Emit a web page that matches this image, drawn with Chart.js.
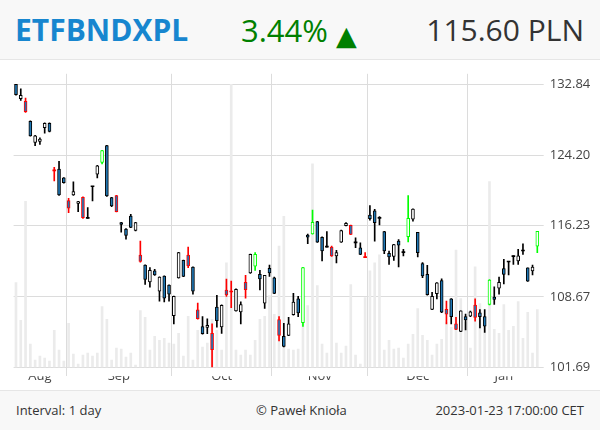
<!DOCTYPE html>
<html>
<head>
<meta charset="utf-8">
<script src="https://cdn.jsdelivr.net/npm/chart.js@4.4.1/dist/chart.umd.min.js"></script>
<style>
  body { margin: 0; width: 600px; height: 430px; position: relative; overflow: hidden;
         font-family: 'Open Sans', sans-serif; background: #fff; }
  #head { position: absolute; left: 0; top: 0; width: 600px; height: 59px;
          background: #f8f8f8; border-bottom: 1px solid #e6e6e6; }
  #foot { position: absolute; left: 0; top: 390px; width: 600px; height: 40px;
          background: #f8f8f8; border-top: 1px solid #e6e6e6; }
  .t { position: absolute; line-height: 1; white-space: nowrap; }
  #wrap { position: absolute; left: 0; top: 60px; width: 600px; height: 330px; }
</style>
</head>
<body>
<div id="head">
  <div class="t" style="left:15px;top:15px;font-size:30px;font-weight:bold;color:#1786cf">ETFBNDXPL</div>
  <div class="t" style="left:241px;top:15px;font-size:31px;color:#008000">3.44% <span style="font-family:'DejaVu Sans';font-size:27px;vertical-align:-3px">▲</span></div>
  <div class="t" style="right:16px;top:15px;font-size:30px;color:#333">115.60 PLN</div>
</div>
<div id="wrap"><canvas id="chart" width="600" height="330"></canvas></div>
<div id="foot">
  <div class="t" style="left:16px;top:13px;font-size:13px;color:#333">Interval: 1 day</div>
  <div class="t" style="left:256px;top:13px;font-size:13px;color:#333">© Paweł Knioła</div>
  <div class="t" style="right:16px;top:13px;font-size:13px;color:#333">2023-01-23 17:00:00 CET</div>
</div>
<script>
// daily candles, 2022-08-17 .. 2023-01-23 (trading days only)
const opens = [
  132.84, 131.07, 130.74, 128.28, 125.74, 125.86, 127.51, 128.04, 122.41, 122.63,
  121.60, 119.02, 119.65, 118.69, 119.39, 117.04, 120.59, 122.04, 123.38, 125.37,
  119.36, 119.58, 116.56, 115.87, 117.30, 115.70, 113.05, 111.99, 110.21, 111.36,
  109.24, 110.83, 109.87, 106.74, 110.64, 112.48, 113.05, 111.78, 107.33, 105.66,
  105.56, 104.98, 107.63, 105.62, 109.37, 109.16, 107.23, 107.14, 110.18, 111.15,
  111.86, 111.00, 108.02, 111.63, 110.64, 106.35, 104.68, 104.77, 106.84, 108.47,
  106.05, 115.20, 115.34, 116.68, 114.96, 113.90, 113.90, 112.95, 114.43, 116.23,
  116.26, 114.36, 113.83, 112.77, 117.41, 117.86, 117.04, 115.59, 113.22, 112.91,
  114.54, 113.30, 115.02, 116.96, 115.49, 112.13, 111.00, 107.39, 108.99, 110.36,
  107.39, 108.47, 105.92, 105.17, 106.65, 106.70, 107.82, 107.04, 106.65, 107.88,
  108.64, 109.56, 111.60, 112.31, 112.87, 112.42, 113.48, 111.68, 111.36, 114.01
]
const highs = [
  132.84, 132.28, 131.14, 128.35, 126.60, 126.30, 128.10, 128.10, 122.83, 123.53,
  121.65, 119.28, 121.15, 118.95, 119.45, 118.24, 120.59, 123.05, 124.80, 125.40,
  119.40, 119.60, 116.60, 115.90, 117.49, 116.60, 114.54, 112.00, 111.71, 111.53,
  110.75, 110.85, 109.90, 108.75, 113.35, 112.50, 113.90, 111.80, 108.02, 106.65,
  106.42, 105.92, 108.82, 107.85, 110.51, 110.30, 109.50, 108.15, 110.89, 113.15,
  113.30, 111.42, 110.90, 111.99, 110.72, 106.65, 105.99, 106.58, 109.03, 108.71,
  111.75, 115.31, 117.97, 116.70, 115.00, 115.59, 114.00, 113.54, 115.75, 116.56,
  116.30, 114.89, 114.36, 113.30, 118.46, 118.05, 117.23, 115.60, 113.48, 114.20,
  114.71, 113.65, 119.58, 118.10, 115.50, 112.24, 111.95, 109.13, 110.15, 110.54,
  108.22, 108.50, 106.58, 107.25, 106.90, 107.20, 108.47, 107.36, 107.36, 110.45,
  109.70, 110.72, 112.59, 112.31, 112.95, 113.65, 114.25, 111.70, 111.99, 115.60
]
const lows = [
  131.50, 130.83, 129.37, 126.50, 125.37, 125.50, 126.86, 127.00, 121.26, 119.60,
  121.00, 117.68, 119.60, 117.79, 117.04, 117.04, 118.98, 121.60, 123.23, 119.50,
  118.35, 117.75, 115.52, 114.75, 116.00, 115.65, 112.30, 109.94, 109.66, 110.90,
  108.22, 108.15, 108.22, 105.92, 110.60, 110.75, 111.71, 108.95, 106.40, 104.90,
  104.94, 101.69, 105.59, 104.98, 108.71, 107.56, 107.20, 105.92, 108.54, 111.10,
  111.42, 109.38, 107.49, 110.79, 109.00, 104.22, 103.65, 104.75, 106.80, 106.65,
  105.66, 114.28, 115.30, 114.40, 112.42, 113.90, 112.90, 112.21, 114.40, 116.20,
  115.25, 113.83, 113.10, 112.77, 116.85, 114.54, 116.30, 113.19, 112.06, 112.48,
  111.78, 112.95, 114.46, 116.74, 112.84, 110.65, 108.85, 107.35, 108.44, 107.05,
  105.92, 105.92, 105.35, 105.15, 105.33, 106.65, 106.19, 105.53, 105.08, 107.85,
  107.88, 108.95, 110.00, 110.94, 112.06, 112.06, 113.12, 110.25, 110.94, 113.30
]
const closes = [
  131.56, 131.47, 129.45, 126.54, 126.54, 126.14, 128.04, 127.07, 122.41, 119.65,
  121.04, 118.16, 120.03, 118.91, 117.12, 117.04, 120.59, 123.00, 124.77, 119.54,
  118.42, 117.79, 116.37, 115.17, 116.05, 116.56, 112.38, 110.47, 111.42, 110.94,
  110.72, 108.54, 108.95, 108.71, 113.30, 110.79, 111.89, 109.24, 106.44, 104.94,
  105.79, 103.36, 106.25, 107.79, 108.87, 109.16, 109.45, 107.88, 109.41, 113.12,
  113.12, 110.51, 110.89, 111.15, 109.03, 104.77, 103.69, 105.92, 108.12, 107.03,
  111.71, 114.96, 116.60, 114.43, 113.48, 113.90, 112.95, 113.30, 115.70, 116.49,
  115.28, 114.36, 113.12, 112.77, 117.01, 116.56, 117.04, 113.48, 112.84, 114.18,
  114.11, 113.30, 117.04, 118.08, 113.30, 110.83, 108.88, 108.71, 110.12, 107.09,
  106.90, 106.64, 105.37, 107.23, 106.31, 107.14, 106.58, 106.65, 105.70, 110.41,
  108.41, 110.18, 111.00, 112.31, 112.87, 112.95, 113.48, 110.30, 111.76, 115.60
]
// outline colour of each candle: k = normal, r = red, g = green
const flags = [
  'k','k','r','k','k','k','k','k','r','k',
  'k','r','k','k','r','k','k','k','g','k',
  'k','r','k','k','k','k','r','k','k','k',
  'k','k','k','k','k','k','r','k','r','k',
  'k','r','k','k','r','r','k','k','r','k',
  'g','k','k','k','k','r','k','k','k','k',
  'g','k','g','k','k','k','r','k','k','k',
  'r','k','k','r','k','k','k','k','k','k',
  'k','k','g','k','k','k','k','k','k','k',
  'r','k','r','k','k','k','r','k','k','g',
  'k','k','k','k','k','k','k','k','k','g'
]
// relative daily volume
const volumes = [
  85, 47, 167, 23, 7, 11, 9, 6, 37, 17,
  6, 44, 13, 3, 12, 14, 11, 14, 61, 48,
  7, 19, 18, 10, 14, 2, 57, 50, 17, 31,
  27, 29, 24, 23, 34, 11, 51, 7, 37, 20,
  24, 48, 37, 17, 105, 285, 17, 12, 17, 12,
  27, 48, 51, 72, 53, 122, 152, 18, 17, 18,
  50, 62, 205, 82, 23, 14, 117, 24, 14, 21,
  83, 12, 3, 70, 97, 105, 113, 17, 27, 18,
  19, 9, 23, 33, 59, 32, 27, 12, 23, 28,
  45, 40, 118, 69, 45, 19, 101, 64, 43, 187,
  38, 34, 63, 37, 41, 66, 29, 55, 14, 58
]
const months = ['Aug', 'Sep', 'Oct', 'Nov', 'Dec', 'Jan']
const monthStart = [0, 11, 33, 54, 74, 95]
const priceTicks = [101.69, 108.67, 116.23, 124.20, 132.84]

const n = opens.length
const idx = opens.map((_, i) => i)
const edges = monthStart.slice(1).map(s => s - 0.5)
const mids = monthStart.map((s, i) => ((s - 0.5) + ((monthStart[i + 1] ?? n) - 0.5)) / 2)

const lineColor = { k: '#000000', r: '#ff0000', g: '#00ff00' }
const upFill = '#ffffff'
const downFill = '#1f77b4'
const isDoji = i => opens[i] === closes[i]

new Chart(document.getElementById('chart'), {
  type: 'bar',
  data: {
    datasets: [
      {
        label: 'body',
        order: 0,
        data: idx.map(i => ({ x: i, y: [opens[i], closes[i]] })),
        barThickness: 3,
        minBarLength: 1,
        borderSkipped: false,
        borderWidth: c => isDoji(c.dataIndex) ? 0 : 1,
        borderColor: c => lineColor[flags[c.dataIndex]],
        backgroundColor: c => {
          const i = c.dataIndex
          if (isDoji(i)) return lineColor[flags[i]]
          return closes[i] > opens[i] ? upFill : downFill
        },
        grouped: false,
        yAxisID: 'y'
      },
      {
        label: 'wick',
        order: 1,
        data: idx.map(i => ({ x: i, y: [lows[i], highs[i]] })),
        barThickness: 1,
        backgroundColor: c => lineColor[flags[c.dataIndex]],
        grouped: false,
        yAxisID: 'y'
      },
      {
        label: 'volume',
        order: 2,
        data: idx.map(i => ({ x: i, y: volumes[i] })),
        barThickness: 2,
        backgroundColor: '#ebebeb',
        grouped: false,
        yAxisID: 'vol'
      }
    ]
  },
  options: {
    responsive: false,
    animation: false,
    layout: { padding: { left: 13.6, top: 12, right: 0, bottom: 0 } },
    plugins: { legend: { display: false }, tooltip: { enabled: false } },
    scales: {
      x: {
        type: 'linear',
        min: -0.5,
        max: n - 0.5,
        offset: false,
        afterBuildTicks: s => {
          s.ticks = [...edges, ...mids].sort((a, b) => a - b).map(v => ({ value: v }))
        },
        afterFit: s => { s.height = 13 },
        grid: {
          offset: false,
          drawTicks: false,
          color: c => edges.includes(c.tick && c.tick.value) ? '#dcdcdc' : 'rgba(0,0,0,0)'
        },
        border: { display: false },
        ticks: {
          autoSkip: false,
          maxRotation: 0,
          padding: -8,
          color: '#444',
          font: { family: 'Open Sans', size: 13 },
          callback: v => {
            const m = mids.indexOf(v)
            return m >= 0 ? months[m] : ''
          }
        }
      },
      y: {
        type: 'logarithmic',
        position: 'right',
        min: 100.81,
        max: 134.18,
        afterBuildTicks: s => { s.ticks = priceTicks.map(v => ({ value: v })) },
        afterFit: s => { s.width = 60.3 },
        grid: { color: '#dcdcdc', tickLength: 4 },
        border: { display: false },
        ticks: {
          padding: 6,
          color: '#444',
          font: { family: 'Open Sans', size: 13 },
          callback: v => Number(v).toFixed(2)
        }
      },
      vol: {
        display: false,
        min: -9.3,
        max: 295.7
      }
    }
  }
})
</script>
</body>
</html>
